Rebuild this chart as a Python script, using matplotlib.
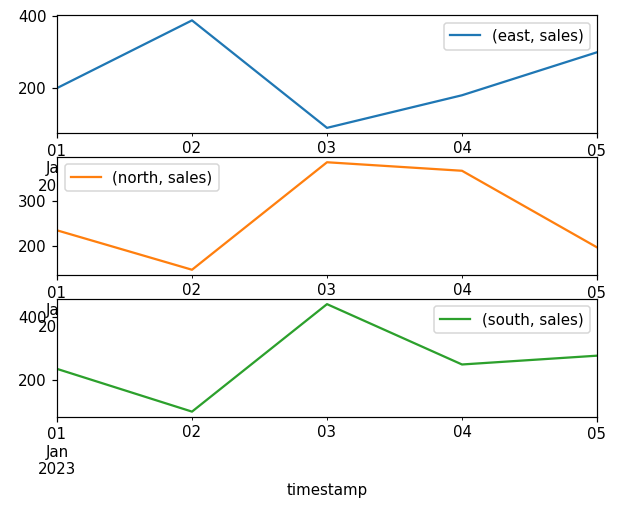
import pandas as pd
import matplotlib
matplotlib.use('Agg')
import matplotlib.pyplot as plt

# daily sales per region
dates = pd.date_range('2023-01-01', periods=5, freq='D', name='timestamp')
east_sales = [200, 389, 89, 180, 300]
north_sales = [234, 146, 386, 367, 196]
south_sales = [234, 98, 440, 248, 276]

cols = pd.MultiIndex.from_tuples([('east', 'sales'), ('north', 'sales'), ('south', 'sales')])
df = pd.DataFrame(list(zip(east_sales, north_sales, south_sales)), index=dates, columns=cols)

dpi = 108
fig, axes = plt.subplots(3, 1, figsize=(630/dpi, 516/dpi), dpi=dpi)
df.plot(subplots=True, sharex=False, ax=axes)

axes[0].legend(loc='upper right')
axes[1].legend(loc='upper left')
axes[2].legend(loc='upper right')

fig.subplots_adjust(left=57/630, right=597/630, top=1-15/516, bottom=1-417/516, hspace=0.2)

plt.savefig('out.png')
